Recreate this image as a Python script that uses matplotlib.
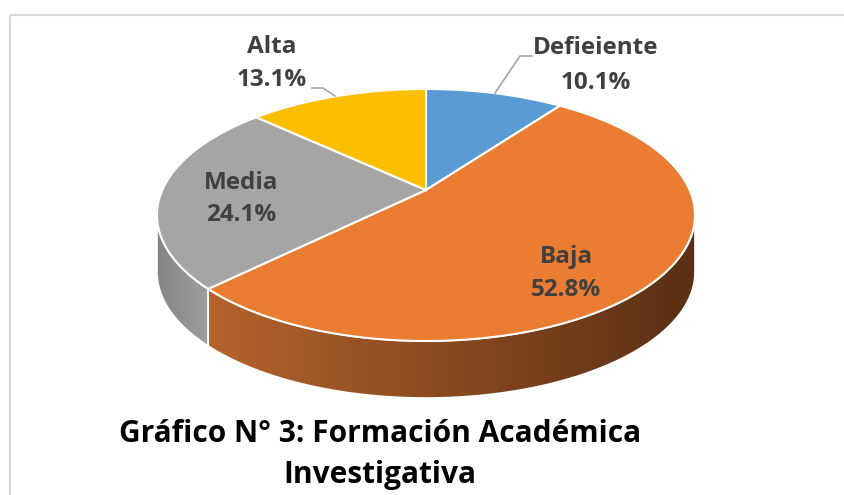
import numpy as np
import matplotlib.pyplot as plt
from matplotlib.patches import Polygon, Rectangle
from matplotlib.colors import to_rgb

# data
categories = ["Defieiente", "Baja", "Media", "Alta"]
percent = [10.1, 52.8, 24.1, 13.1]
top_colors = ["#5B9BD5", "#EA7D32", "#A5A5A5", "#FCBF00"]
side_colors = [("#41719C", "#2E5070"), ("#B5632C", "#5A2F14"),
               ("#858585", "#9E9E9E"), ("#BF9000", "#8F6C00")]

# label layout (pixel positions of name / value)
label_pos = [(596, 48, 83), (566, 257, 290), (241, 183, 215), (272, 47, 80)]

title_1 = "Gráfico N° 3: Formación Académica"
title_2 = "Investigativa"

# pie geometry in pixels
cx, cy, rx, ry, depth = 426, 215, 269, 126, 57
apex_y = 190   # circle centre seen in perspective sits above the ellipse centre
persp = 0.19

fig = plt.figure(figsize=(8.44, 4.95), dpi=100)
ax = fig.add_axes([0, 0, 1, 1])
ax.set_xlim(0, 844)
ax.set_ylim(495, 0)
ax.axis('off')

# chart frame
ax.add_patch(Rectangle((10, 15), 850, 500, fill=False, edgecolor='#D9D9D9', lw=1.6))


def to_t(theta):
    # fake perspective: push the back slices together, spread the front ones
    return theta + persp * np.cos(theta)


def rim(t, dy=0):
    return cx + rx * np.cos(t), cy - ry * np.sin(t) + dy


# slice angles, clockwise from 12 o'clock
fr = np.array(percent) / sum(percent)
ends = np.pi / 2 - 2 * np.pi * np.cumsum(fr)
starts = np.concatenate([[np.pi / 2], ends[:-1]])

# side walls (front half only)
for i in range(len(categories)):
    t_hi, t_lo = to_t(starts[i]), to_t(ends[i])
    a, b = max(t_lo, -np.pi), min(t_hi, 0)
    if a >= b:
        continue
    tt = np.linspace(b, a, 200)
    xs, ys = rim(tt)
    xb, yb = rim(tt[::-1], depth)
    pts = np.column_stack([np.concatenate([xs, xb]), np.concatenate([ys, yb])])
    poly = Polygon(pts, closed=True, facecolor='none', edgecolor='white', lw=1.2, zorder=3)
    ax.add_patch(poly)
    # horizontal gradient
    c0, c1 = np.array(to_rgb(side_colors[i][0])), np.array(to_rgb(side_colors[i][1]))
    x0, x1 = pts[:, 0].min(), pts[:, 0].max()
    y0, y1 = pts[:, 1].min(), pts[:, 1].max()
    k = np.linspace(0, 1, 256)[None, :, None]
    grad = c0 + (c1 - c0) * k
    im = ax.imshow(np.repeat(grad, 2, axis=0), extent=(x0, x1, y1, y0),
                   aspect='auto', zorder=2, interpolation='bilinear')
    im.set_clip_path(poly)

# top faces
for i in range(len(categories)):
    tt = np.linspace(to_t(starts[i]), to_t(ends[i]), 200)
    xs, ys = rim(tt)
    pts = np.column_stack([np.concatenate([[cx], xs]), np.concatenate([[apex_y], ys])])
    ax.add_patch(Polygon(pts, closed=True, facecolor=top_colors[i],
                         edgecolor='white', lw=1.5, zorder=4))

# labels
font = dict(family='Open Sans', weight='bold', color='#404040', fontsize=17.5,
            ha='center', va='center', zorder=6)
for i, name in enumerate(categories):
    x, y1, y2 = label_pos[i]
    ax.text(x, y1, name, **font)
    ax.text(x, y2, f"{percent[i]:.1f}%", **font)

# leader lines
ax.plot([532, 520, 495], [56, 56, 93], color='#A6A6A6', lw=1.2, zorder=5)
ax.plot([312, 323, 335], [88, 88, 96], color='#A6A6A6', lw=1.2, zorder=5)

ax.text(380, 434, title_1, family='Open Sans', weight='bold', fontsize=21.5,
        ha='center', va='center', color='black')
ax.text(380, 475, title_2, family='Open Sans', weight='bold', fontsize=21.5,
        ha='center', va='center', color='black')

fig.savefig('out.png', dpi=100)
